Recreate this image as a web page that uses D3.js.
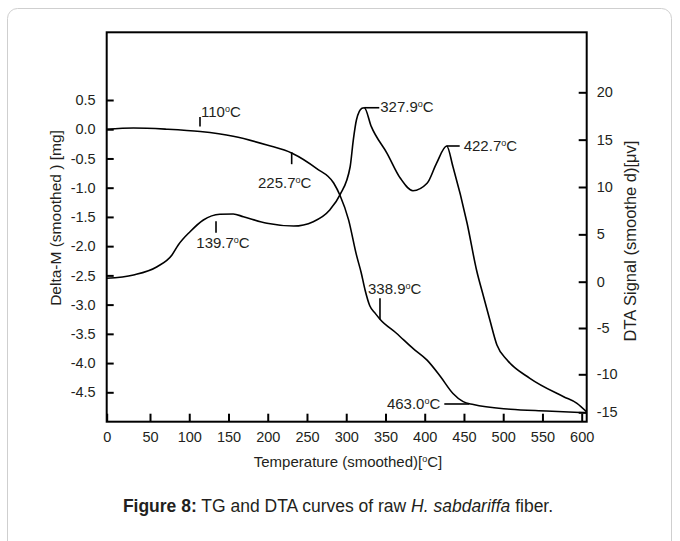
<!DOCTYPE html>
<html>
<head>
<meta charset="utf-8">
<script src="https://cdn.jsdelivr.net/npm/d3@7"></script>
<style>
  body { margin: 0; background: #fff; }
  svg text { font-family: "Liberation Sans", Arial, Helvetica, sans-serif; fill: #231f20; }
</style>
</head>
<body>
<svg id="chart" width="680" height="541"></svg>
<script>
// TG curve, left axis (Delta-M, mg)
var tgTemp = [0, 31, 71, 114, 156, 199, 231, 262, 284, 292, 303, 313, 319, 324, 330, 337, 343, 364, 385, 403, 420, 436, 449, 462, 509, 555, 606];
var tgMass = [0.00, 0.02, 0.00, -0.04, -0.12, -0.27, -0.41, -0.67, -0.92, -1.13, -1.55, -2.15, -2.45, -2.75, -3.02, -3.15, -3.25, -3.49, -3.75, -3.95, -4.23, -4.52, -4.66, -4.71, -4.79, -4.82, -4.85];

// DTA curve, right axis (uV)
var dtaTemp = [0, 31, 59, 78, 86, 101, 118, 139, 156, 169, 199, 233, 258, 279, 292, 305, 309, 313, 320, 323, 332, 352, 369, 385, 403, 415, 428, 436, 454, 466, 475, 483, 492, 505, 534, 577, 594, 606];
var dtaSignal = [0.36, 0.71, 1.58, 2.82, 3.88, 5.28, 6.52, 7.12, 7.15, 6.86, 6.17, 5.88, 6.34, 7.57, 9.16, 12.14, 14.96, 17.07, 18.31, 18.37, 16.37, 13.56, 10.92, 9.61, 10.39, 12.5, 14.33, 12.14, 6.17, 1.24, -1.62, -4.14, -6.84, -8.46, -10.53, -12.95, -13.82, -14.92];

var tempTicks = [0, 50, 100, 150, 200, 250, 300, 350, 400, 450, 500, 550, 600];
var massTicks = [0.5, 0.0, -0.5, -1.0, -1.5, -2.0, -2.5, -3.0, -3.5, -4.0, -4.5];
var dtaTicks = [20, 15, 10, 5, 0, -5, -10, -15];

// marked temperatures
var tgMarkLabels = ["110", "225.7", "338.9", "463.0"];
var tgMarkTemps = [113.7, 230.5, 343, 456.8];
var tgMarkValues = [-0.04, -0.41, -3.25, -4.70];
var dtaMarkLabels = ["139.7", "327.9", "422.7"];
var dtaMarkTemps = [134.1, 323, 428];
var dtaMarkValues = [7.13, 18.37, 14.33];

var svg = d3.select("#chart");
var plotL = 106.7, plotR = 586.7, plotT = 32.3, plotB = 421.7;

// the printed axes are not quite evenly spaced, so follow their tick positions
var x = d3.scaleLinear().domain([0, 50, 600]).range([plotL, 150, 581.7]);
var yL = d3.scaleLinear().domain([0.5, -4.5]).range([100, 392.3]);
var yR = d3.scaleLinear().domain([20, 0, -10, -15]).range([92.3, 281.7, 374.3, 412.3]);

// card border
svg.append("rect")
  .attr("x", 7.5).attr("y", 8.5)
  .attr("width", 664).attr("height", 560)
  .attr("rx", 10)
  .attr("fill", "none")
  .attr("stroke", "#cfcfcf");

// axes
var gx = svg.append("g")
  .attr("transform", "translate(0," + plotB + ")")
  .call(d3.axisBottom(x).tickValues(tempTicks).tickSizeInner(-8).tickSizeOuter(0).tickPadding(10));
var gl = svg.append("g")
  .attr("transform", "translate(" + plotL + ",0)")
  .call(d3.axisLeft(yL).tickValues(massTicks).tickFormat(function(d) { return d.toFixed(1); })
    .tickSizeInner(-7).tickSizeOuter(0).tickPadding(11));
var gr = svg.append("g")
  .attr("transform", "translate(" + plotR + ",0)")
  .call(d3.axisRight(yR).tickValues(dtaTicks).tickFormat(function(d) { return String(d); })
    .tickSizeInner(-8).tickSizeOuter(0).tickPadding(10));

[gx, gl, gr].forEach(function(g) {
  g.select(".domain").remove();
  g.selectAll(".tick line").attr("stroke", "#000").attr("stroke-width", 2);
  g.selectAll(".tick text").attr("font-size", 14.5).attr("fill", "#231f20");
});

// frame
svg.append("rect")
  .attr("x", plotL).attr("y", plotT)
  .attr("width", plotR - plotL).attr("height", plotB - plotT)
  .attr("fill", "none")
  .attr("stroke", "#000")
  .attr("stroke-width", 2);

// curves
var tgLine = d3.line()
  .x(function(d, i) { return x(tgTemp[i]); })
  .y(function(d) { return yL(d); })
  .curve(d3.curveMonotoneX);
var dtaLine = d3.line()
  .x(function(d, i) { return x(dtaTemp[i]); })
  .y(function(d) { return yR(d); })
  .curve(d3.curveMonotoneX);

svg.append("path").attr("d", tgLine(tgMass))
  .attr("fill", "none").attr("stroke", "#000").attr("stroke-width", 1.6);
svg.append("path").attr("d", dtaLine(dtaSignal))
  .attr("fill", "none").attr("stroke", "#000").attr("stroke-width", 1.6);

// degree label: number, small raised o, C
function degLabel(sel, num) {
  sel.append("tspan").text(num);
  sel.append("tspan").text("o").attr("font-size", 9).attr("dy", -5);
  sel.append("tspan").text("C").attr("dy", 5);
}

// marker layouts: tick segment relative to the point, then text offset and anchor
var tgLayout = [
  { tick: [0, -14.5, 0, -5], dx: 1, dy: -15, anchor: "start", mid: false },
  { tick: [0, -1, 0, 11], dx: -7, dy: 35, anchor: "middle", mid: false },
  { tick: [0, 0, 0, -21], dx: -12, dy: -25, anchor: "start", mid: false },
  { tick: [-25, 0, 0, 0], dx: -29, dy: 0, anchor: "end", mid: true }
];
var dtaLayout = [
  { tick: [0, 7, 0, 18.5], dx: 7, dy: 34, anchor: "middle", mid: false },
  { tick: [0, 0, 15, 0], dx: 16, dy: -1, anchor: "start", mid: true },
  { tick: [0, 0, 13, 0], dx: 17, dy: 0, anchor: "start", mid: true }
];

function drawMarks(labels, temps, values, yScale, layout) {
  labels.forEach(function(lab, i) {
    var px = x(temps[i]), py = yScale(values[i]), l = layout[i];
    svg.append("line")
      .attr("x1", px + l.tick[0]).attr("y1", py + l.tick[1])
      .attr("x2", px + l.tick[2]).attr("y2", py + l.tick[3])
      .attr("stroke", "#000").attr("stroke-width", 1.6);
    var t = svg.append("text")
      .attr("x", px + l.dx).attr("y", py + l.dy)
      .attr("dy", l.mid ? "0.35em" : null)
      .attr("text-anchor", l.anchor)
      .attr("font-size", 15);
    degLabel(t, lab);
  });
}
drawMarks(tgMarkLabels, tgMarkTemps, tgMarkValues, yL, tgLayout);
drawMarks(dtaMarkLabels, dtaMarkTemps, dtaMarkValues, yR, dtaLayout);

// axis titles
var xt = svg.append("text")
  .attr("x", 348).attr("y", 467)
  .attr("text-anchor", "middle")
  .attr("font-size", 15);
xt.append("tspan").text("Temperature (smoothed)[");
xt.append("tspan").text("o").attr("font-size", 9).attr("dy", -5);
xt.append("tspan").text("C]").attr("dy", 5);

svg.append("text")
  .attr("transform", "translate(61,218) rotate(-90)")
  .attr("text-anchor", "middle")
  .attr("font-size", 15.5)
  .text("Delta-M (smoothed ) [mg]");

svg.append("text")
  .attr("transform", "translate(636,241) rotate(-90)")
  .attr("text-anchor", "middle")
  .attr("font-size", 16.5)
  .text("DTA Signal (smoothe d)[\u03bcv]");

// caption
var cap = svg.append("text")
  .attr("x", 338).attr("y", 512)
  .attr("text-anchor", "middle")
  .attr("font-size", 17.5);
cap.append("tspan").attr("font-weight", "bold").text("Figure 8:");
cap.append("tspan").text(" TG and DTA curves of raw ");
cap.append("tspan").attr("font-style", "italic").text("H. sabdariffa");
cap.append("tspan").text(" fiber.");
</script>
</body>
</html>
